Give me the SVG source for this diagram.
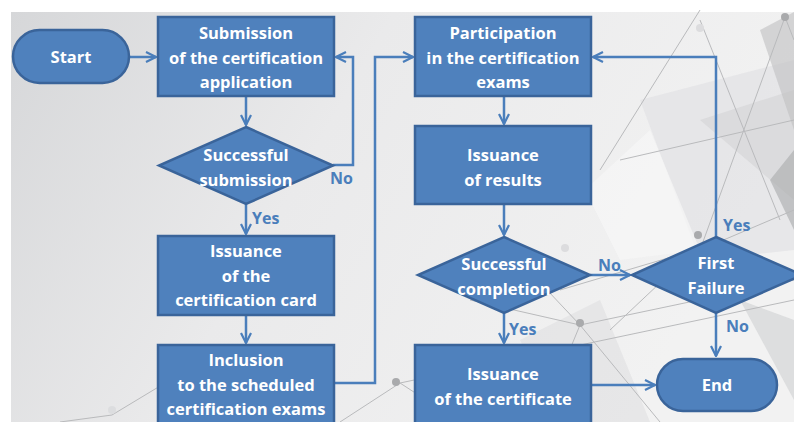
<svg xmlns="http://www.w3.org/2000/svg" width="794" height="422" viewBox="0 0 794 422">
<defs>
<linearGradient id="bg" x1="0" y1="0" x2="1" y2="0.3">
<stop offset="0" stop-color="#d6d7d9"/>
<stop offset="0.45" stop-color="#eaeaeb"/>
<stop offset="1" stop-color="#f2f2f2"/>
</linearGradient>
<marker id="ah" viewBox="0 0 12 12" refX="11" refY="6" markerWidth="12" markerHeight="12" markerUnits="userSpaceOnUse" orient="auto">
<path d="M1,1 L11,6 L1,11" fill="none" stroke="#4a7ebb" stroke-width="2.2" stroke-linejoin="miter"/>
</marker>
<style>
.n{fill:#4f81bd;stroke:#3a649a;stroke-width:2.5}
.t{font-family:"Open Sans","Liberation Sans",sans-serif;font-weight:bold;font-size:16.5px;fill:#ffffff;text-anchor:middle}
.l{font-family:"Open Sans","Liberation Sans",sans-serif;font-weight:bold;font-size:16px;fill:#4a7ebb}
.c{fill:none;stroke:#4a7ebb;stroke-width:2.5;marker-end:url(#ah)}
.d{stroke:#b9babc;stroke-width:1;fill:none}
.dot{fill:#a9aaac}
</style>
</defs>
<rect width="794" height="422" fill="#ffffff"/>
<rect x="11" y="12" width="783" height="410" fill="url(#bg)"/>
<g id="decor">
<polygon points="640,100 794,60 794,250 700,260" fill="#e0e0e2" opacity="0.6"/>
<polygon points="700,120 794,90 794,200" fill="#cfd0d2" opacity="0.5"/>
<polygon points="760,30 794,12 794,130" fill="#bfc0c2" opacity="0.6"/>
<polygon points="770,180 794,150 794,230" fill="#a9aaac" opacity="0.6"/>
<polygon points="585,190 650,130 700,250 620,260" fill="#f7f7f7" opacity="0.7"/>
<polygon points="520,340 600,300 650,422 560,422" fill="#dcdcde" opacity="0.5"/>
<polygon points="740,300 794,320 794,400" fill="#c8c9cb" opacity="0.5"/>
<path class="d" d="M785,17 L700,250 M785,17 L794,40 M700,20 L780,220 M600,170 L700,10 M695,250 L560,290 M695,250 L610,330 M580,325 L500,240 M580,325 L470,300 M580,325 L660,422 M580,325 L540,422 M580,325 L794,280 M400,383 L340,422 M400,383 L460,422 M400,383 L794,300 M112,415 L60,422 M112,415 L170,380 M700,250 L794,210 M620,160 L794,120"/>
<circle class="dot" cx="785" cy="17" r="4"/>
<circle class="dot" cx="698" cy="235" r="4"/>
<circle class="dot" cx="580" cy="323" r="4"/>
<circle class="dot" cx="396" cy="382" r="4"/>
<circle cx="565" cy="248" r="4" fill="#dcdcde"/>
<circle cx="700" cy="28" r="4" fill="#dcdcde"/>
<circle cx="112" cy="410" r="4" fill="#dcdddf"/>
</g>
<g id="connectors">
<path class="c" d="M129,57 L156,57"/>
<path class="c" d="M246,96 L246,125"/>
<path class="c" d="M333,165 L353,165 L353,57 L336,57"/>
<path class="c" d="M246,204 L246,234"/>
<path class="c" d="M246,315 L246,343"/>
<path class="c" d="M334,383 L375,383 L375,57 L413,57"/>
<path class="c" d="M504,96 L504,124"/>
<path class="c" d="M504,204 L504,235"/>
<path class="c" d="M590,275 L630,275"/>
<path class="c" d="M716,237 L716,57 L593,57"/>
<path class="c" d="M504,313 L504,343"/>
<path class="c" d="M716,313 L716,356"/>
<path class="c" d="M591,385 L655,385"/>
<text class="l" x="330" y="184">No</text>
<text class="l" x="252" y="224">Yes</text>
<text class="l" x="598" y="271">No</text>
<text class="l" x="723" y="231">Yes</text>
<text class="l" x="509" y="335">Yes</text>
<text class="l" x="726" y="332">No</text>
</g>
<g id="start">
<rect class="n" x="13" y="30" width="116" height="53" rx="26.5"/>
<text class="t" x="71" y="63">Start</text>
</g>
<g id="submission">
<rect class="n" x="158" y="17" width="176" height="79"/>
<text class="t" x="246" y="39">Submission</text>
<text class="t" x="246" y="64">of the certification</text>
<text class="t" x="246" y="88">application</text>
</g>
<g id="check-submission">
<polygon class="n" points="246,127 333,165.5 246,204 159,165.5"/>
<text class="t" x="246" y="161">Successful</text>
<text class="t" x="246" y="186">submission</text>
</g>
<g id="card">
<rect class="n" x="158" y="236" width="176" height="79"/>
<text class="t" x="246" y="257">Issuance</text>
<text class="t" x="246" y="282">of the</text>
<text class="t" x="246" y="306">certification card</text>
</g>
<g id="inclusion">
<rect class="n" x="158" y="345" width="176" height="82"/>
<text class="t" x="246" y="366">Inclusion</text>
<text class="t" x="246" y="391">to the scheduled</text>
<text class="t" x="246" y="415">certification exams</text>
</g>
<g id="participation">
<rect class="n" x="415" y="17" width="176" height="79"/>
<text class="t" x="503" y="39">Participation</text>
<text class="t" x="503" y="64">in the certification</text>
<text class="t" x="503" y="88">exams</text>
</g>
<g id="results">
<rect class="n" x="415" y="126" width="176" height="78"/>
<text class="t" x="503" y="161">Issuance</text>
<text class="t" x="503" y="186">of results</text>
</g>
<g id="check-completion">
<polygon class="n" points="504,237 590,275 504,313 418,275"/>
<text class="t" x="504" y="270">Successful</text>
<text class="t" x="504" y="295">completion</text>
</g>
<g id="first-failure">
<polygon class="n" points="716,237 802,275 716,313 632,275"/>
<text class="t" x="716" y="269">First</text>
<text class="t" x="716" y="294">Failure</text>
</g>
<g id="certificate">
<rect class="n" x="415" y="345" width="176" height="82"/>
<text class="t" x="503" y="380">Issuance</text>
<text class="t" x="503" y="405">of the certificate</text>
</g>
<g id="end">
<rect class="n" x="657" y="359" width="120" height="52" rx="26"/>
<text class="t" x="717" y="391">End</text>
</g>
</svg>
